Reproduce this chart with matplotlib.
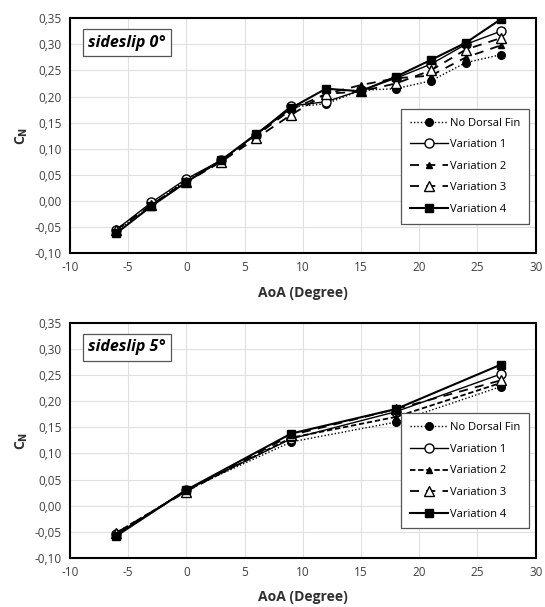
import matplotlib.pyplot as plt
from matplotlib.ticker import FuncFormatter

plt.rcParams['font.family'] = ['Open Sans', 'DejaVu Sans']
plt.rcParams['axes.unicode_minus'] = False

series_names = ["No Dorsal Fin", "Variation 1", "Variation 2", "Variation 3", "Variation 4"]

# sideslip 0 deg
aoa_0 = [-6, -3, 0, 3, 6, 9, 12, 15, 18, 21, 24, 27]
cn_0_nofin = [-0.058, -0.008, 0.040, 0.078, 0.127, 0.180, 0.186, 0.212, 0.215, 0.230, 0.265, 0.280]
cn_0_var1 = [-0.055, -0.003, 0.042, 0.078, 0.127, 0.182, 0.190, 0.212, 0.235, 0.262, 0.300, 0.325]
cn_0_var2 = [-0.055, -0.008, 0.038, 0.076, 0.125, 0.175, 0.205, 0.222, 0.235, 0.240, 0.275, 0.298]
cn_0_var3 = [-0.055, -0.008, 0.036, 0.075, 0.120, 0.165, 0.205, 0.210, 0.225, 0.250, 0.290, 0.312]
cn_0_var4 = [-0.062, -0.010, 0.036, 0.078, 0.128, 0.178, 0.215, 0.210, 0.238, 0.270, 0.303, 0.348]

# sideslip 5 deg
aoa_5 = [-6, 0, 9, 18, 27]
cn_5_nofin = [-0.057, 0.030, 0.122, 0.160, 0.228]
cn_5_var1 = [-0.055, 0.030, 0.128, 0.180, 0.252]
cn_5_var2 = [-0.052, 0.028, 0.130, 0.170, 0.235]
cn_5_var3 = [-0.052, 0.027, 0.135, 0.185, 0.240]
cn_5_var4 = [-0.058, 0.030, 0.138, 0.185, 0.270]


def styles(var2_dash):
    return [
        dict(ls=(0, (1, 1.5)), lw=1.0, marker='o', ms=5.5, mfc='black', mec='black'),
        dict(ls='-', lw=1.0, marker='o', ms=6.5, mfc='white', mec='black'),
        dict(ls=(0, var2_dash), lw=1.3, marker='^', ms=5, mfc='black', mec='black'),
        dict(ls=(0, (5, 4)), lw=1.3, marker='^', ms=6.5, mfc='white', mec='black'),
        dict(ls='-', lw=1.5, marker='s', ms=6, mfc='black', mec='black'),
    ]


def comma_fmt(v, pos):
    return f"{v:.2f}".replace('.', ',')


def draw_panel(ax, x, ys, title, var2_dash):
    for name, y, st in zip(series_names, ys, styles(var2_dash)):
        ax.plot(x, y, color='black', label=name, **st)
    ax.set_xlim(-10, 30)
    ax.set_ylim(-0.10, 0.35)
    ax.set_xticks(range(-10, 31, 5))
    ax.set_yticks([i * 0.05 for i in range(-2, 8)])
    ax.yaxis.set_major_formatter(FuncFormatter(comma_fmt))
    ax.grid(True, color='#e0e0e0', lw=0.8)
    ax.set_axisbelow(True)
    ax.tick_params(length=0, labelsize=8.5, labelcolor='#404040', pad=6)
    for sp in ax.spines.values():
        sp.set_linewidth(1.5)
    ax.set_xlabel("AoA (Degree)", fontsize=10, fontweight='bold', color='#303030', labelpad=8)
    ax.set_ylabel("C$_\\mathbf{N}$", fontsize=10, fontweight='bold', color='#303030', labelpad=3)
    ax.text(0.04, 0.93, title, transform=ax.transAxes, fontsize=11.5, fontweight='bold',
            fontstyle='italic', va='top', ha='left',
            bbox=dict(boxstyle='square,pad=0.35', fc='white', ec='#555555', lw=0.9))
    leg = ax.legend(loc='lower right', bbox_to_anchor=(0.985, 0.125), fontsize=8,
                    handlelength=3.4, handletextpad=0.15, labelspacing=0.95,
                    fancybox=False, edgecolor='#555555', framealpha=1,
                    borderpad=0.8, borderaxespad=0.0)
    leg.get_frame().set_linewidth(0.9)


fig = plt.figure(figsize=(5.45, 6.07), dpi=100)
ax1 = fig.add_axes([0.128, 0.583, 0.855, 0.387])
ax2 = fig.add_axes([0.128, 0.081, 0.855, 0.387])

draw_panel(ax1, aoa_0, [cn_0_nofin, cn_0_var1, cn_0_var2, cn_0_var3, cn_0_var4],
           "sideslip 0°", (5, 4))
draw_panel(ax2, aoa_5, [cn_5_nofin, cn_5_var1, cn_5_var2, cn_5_var3, cn_5_var4],
           "sideslip 5°", (3, 1.5))

fig.savefig("out.png", dpi=100)
